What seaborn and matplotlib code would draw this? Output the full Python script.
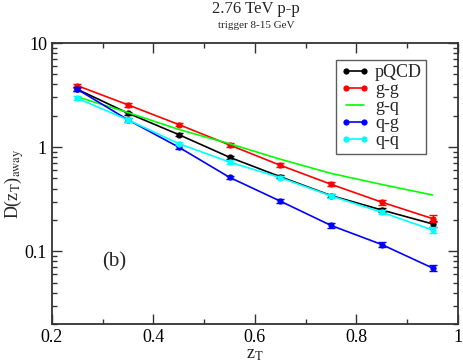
import matplotlib
matplotlib.use('Agg')
import matplotlib.pyplot as plt
import seaborn as sns
import pandas as pd
from matplotlib.ticker import FixedLocator, LogLocator, NullFormatter

zt = [0.25, 0.35, 0.45, 0.55, 0.65, 0.75, 0.85, 0.95]

pqcd = [3.6, 2.12, 1.32, 0.80, 0.52, 0.343, 0.249, 0.183]
gg = [3.9, 2.55, 1.65, 1.05, 0.67, 0.44, 0.296, 0.206]
gq = [3.05, 2.15, 1.48, 1.08, 0.766, 0.56, 0.438, 0.347]
qg = [3.6, 1.83, 1.0, 0.513, 0.303, 0.177, 0.116, 0.069]
qq = [2.95, 1.83, 1.08, 0.72, 0.51, 0.34, 0.237, 0.16]

pqcd_err = [0.15, 0.08, 0.05, 0.03, 0.02, 0.014, 0.012, 0.012]
gg_err = [0.18, 0.10, 0.06, 0.04, 0.03, 0.02, 0.016, 0.016]
qg_err = [0.15, 0.07, 0.04, 0.02, 0.012, 0.008, 0.006, 0.005]
qq_err = [0.12, 0.07, 0.04, 0.03, 0.02, 0.014, 0.011, 0.010]

labels = ['pQCD', 'g-g', 'g-q', 'q-g', 'q-q']
colors = ['black', '#ff0000', '#00ff00', '#0000ff', '#00ffff']
series = [pqcd, gg, gq, qg, qq]
errors = [pqcd_err, gg_err, None, qg_err, qq_err]

sns.set_style('ticks')
plt.rcParams['font.family'] = ['Liberation Serif', 'DejaVu Serif']
plt.rcParams['mathtext.fontset'] = 'stix'

fig = plt.figure(figsize=(4.63, 3.62), dpi=100)
ax = fig.add_axes([0.112, 0.105, 0.877, 0.776])

for lab, col, ys, err in zip(labels, colors, series, errors):
    df = pd.DataFrame({'zT': zt, 'D': ys})
    if err is None:
        sns.lineplot(data=df, x='zT', y='D', color=col, lw=1.2, ax=ax, label=lab)
    else:
        sns.lineplot(data=df, x='zT', y='D', color=col, lw=1.2, marker='o',
                     markersize=4.5, markeredgewidth=0, ax=ax, label=lab)
        ax.errorbar(zt, ys, yerr=err, fmt='none', ecolor=col, elinewidth=1.0,
                    capsize=3, capthick=1.0)

ax.set_yscale('log')
ax.set_xlim(0.2, 1.0)
ax.set_ylim(0.02, 10)
ax.xaxis.set_major_locator(FixedLocator([0.2, 0.4, 0.6, 0.8, 1.0]))
ax.xaxis.set_minor_locator(FixedLocator([0.3, 0.5, 0.7, 0.9]))
ax.set_xticklabels(['0.2', '0.4', '0.6', '0.8', '1'])
ax.yaxis.set_major_locator(FixedLocator([0.1, 1, 10]))
ax.set_yticklabels(['0.1', '1', '10'])
ax.yaxis.set_minor_locator(LogLocator(base=10, subs=range(2, 10)))
ax.yaxis.set_minor_formatter(NullFormatter())

ax.tick_params(which='both', direction='in', top=True, right=True,
               labelsize=13, colors='#333333', labelcolor='black')
ax.tick_params(which='major', length=7, width=1.0)
ax.tick_params(which='minor', length=3.5, width=1.0)
for sp in ax.spines.values():
    sp.set_linewidth(1.3)
    sp.set_color('#333333')

ax.set_xlabel(r'z$_\mathrm{T}$', fontsize=13, labelpad=0)
ax.set_ylabel(r'D(z$_\mathrm{T}$)$_\mathrm{away}$', fontsize=13, va='center')
ax.yaxis.set_label_coords(-0.093, 0.5)

fig.text(0.553, 0.975, '2.76 TeV p-p', ha='center', va='center', fontsize=12)
fig.text(0.553, 0.93, 'trigger 8-15 GeV', ha='center', va='center', fontsize=8)
ax.text(0.30, 0.079, '(b)', fontsize=15, ha='left', va='center')

leg = ax.legend(loc='upper left', bbox_to_anchor=(0.70, 0.94), borderaxespad=0,
                fontsize=13, frameon=True, fancybox=False, numpoints=2,
                labelspacing=0.0, handlelength=1.6, handletextpad=0.3,
                borderpad=0.25)
leg.get_frame().set_edgecolor('#333333')
leg.get_frame().set_linewidth(1.0)

fig.savefig('out.png', dpi=100)
